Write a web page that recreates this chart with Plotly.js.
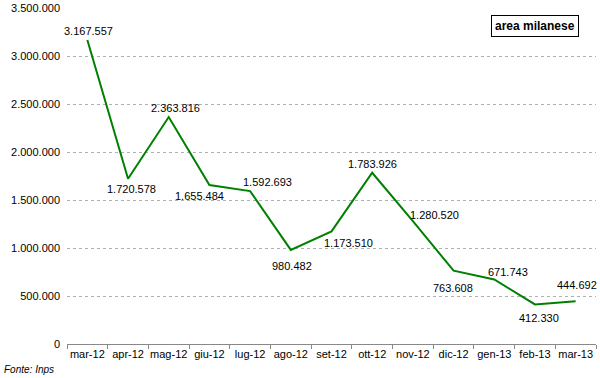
<!DOCTYPE html>
<html>
<head>
<meta charset="utf-8">
<script src="https://cdn.plot.ly/plotly-3.0.1.min.js"></script>
<style>html,body{margin:0;padding:0;background:#fff}#chart{width:600px;height:378px}</style>
</head>
<body>
<div id="chart"></div>
<script>
const months = ["mar-12","apr-12","mag-12","giu-12","lug-12","ago-12","set-12","ott-12","nov-12","dic-12","gen-13","feb-13","mar-13"];
const values = [3167557,1720578,2363816,1655484,1592693,980482,1173510,1783926,1280520,763608,671743,412330,444692];
const yTicks = [0,500000,1000000,1500000,2000000,2500000,3000000,3500000];
// label offsets in pixels (x, y) relative to each point
const labelDx = [1,3,7,-10,17,1,17,0,22,-1,14,4,1];
const labelDy = [9,-10,9,-11,9,-16,-12,9,6,-17,8,-14,16];

function fmt(v){ return String(v).replace(/\B(?=(\d{3})+(?!\d))/g, "."); }

const annotations = months.map((m,i)=>({
  x: m, y: values[i], xref:'x', yref:'y', text: fmt(values[i]),
  showarrow:false, xshift: labelDx[i], yshift: labelDy[i],
  font:{family:'Liberation Sans, Arial, sans-serif', size:11, color:'#000'}
}));
annotations.push({
  xref:'paper', yref:'paper', x:0.967, y:0.98, xanchor:'right', yanchor:'top',
  text:'<b>area milanese</b>', showarrow:false, bordercolor:'#000', borderwidth:1,
  bgcolor:'#fff', borderpad:3,
  font:{family:'Liberation Sans, Arial, sans-serif', size:12, color:'#000'}
});
annotations.push({
  xref:'paper', yref:'paper', x:-0.122, y:-0.055, xanchor:'left', yanchor:'top',
  text:'<i>Fonte: Inps</i>', showarrow:false,
  font:{family:'Liberation Sans, Arial, sans-serif', size:10, color:'#000'}
});

const trace = {
  x: months, y: values, type:'scatter', mode:'lines',
  line:{color:'#008000', width:2}, hoverinfo:'skip'
};

const layout = {
  width:600, height:378,
  margin:{l:67, r:4, t:8, b:34},
  paper_bgcolor:'#fff', plot_bgcolor:'#fff',
  separators:',.',
  showlegend:false,
  font:{family:'Liberation Sans, Arial, sans-serif', size:11, color:'#000'},
  xaxis:{
    type:'category', tickson:'boundaries', ticks:'outside', ticklen:4, tickcolor:'#888',
    showline:true, linecolor:'#888', linewidth:1, showgrid:false, tickangle:0,
    tickfont:{size:11}, range:[-0.5,12.5], fixedrange:true
  },
  yaxis:{
    range:[0,3500000], tickvals:yTicks, tickformat:',d',
    showgrid:true, gridcolor:'#b0b0b0', griddash:'dot', gridwidth:1,
    zeroline:false, showline:false, ticks:'', ticklabelstandoff:6,
    tickfont:{size:11}, fixedrange:true
  },
  annotations: annotations
};

Plotly.newPlot('chart',[trace],layout,{displayModeBar:false, staticPlot:true});
</script>
</body>
</html>
